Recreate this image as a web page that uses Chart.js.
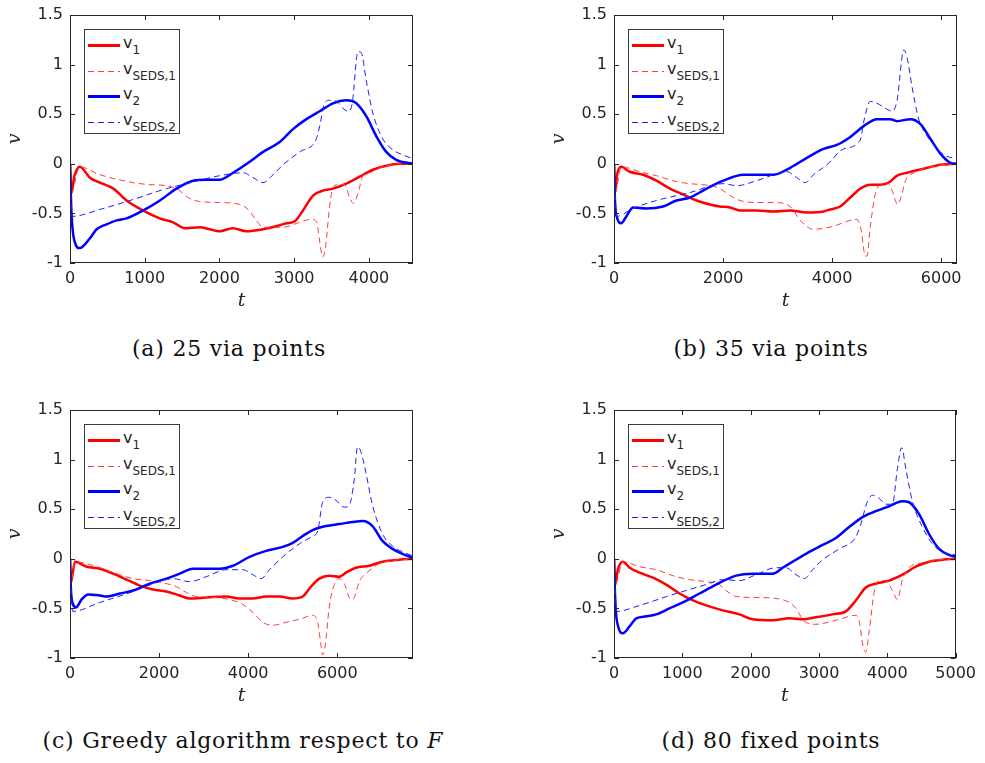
<!DOCTYPE html>
<html lang="en">
<head>
  <meta charset="UTF-8" />
  <title>v vs t</title>
  <style>
    body { margin: 0; background: #fff; }
    #wrap { position: relative; width: 985px; height: 763px; overflow: hidden; }
    .panel { position: absolute; width: 440px; height: 320px; }
    .panel canvas { position: absolute; left: 0; top: 0; }
    .legend { position: absolute; background: #fff; border: 1px solid #3a3a3a; width: 94px; height: 103px;
              font-family: "DejaVu Sans", sans-serif; font-size: 16px; color: #262626; }
    .row { position: absolute; left: 3px; height: 24px; line-height: 24px; white-space: nowrap; }
    .sw { position: absolute; left: 0; width: 32px; }
    .lab { position: absolute; left: 35px; top: -2px; }
    .lab .sub { font-size: 12px; position: relative; top: 6px; }
    .cap { position: absolute; width: 500px; text-align: center; font-family: "DejaVu Serif", serif;
           font-size: 22px; letter-spacing: 0.8px; line-height: 26px; color: #111; white-space: nowrap; }
  </style>
</head>
<body>
<div id="wrap">
  <div class="panel" id="pa" style="left:0;top:0"><canvas id="ca" width="440" height="320"></canvas></div>
  <div class="panel" id="pb" style="left:544px;top:0"><canvas id="cb" width="440" height="320"></canvas></div>
  <div class="panel" id="pc" style="left:0;top:395px"><canvas id="cc" width="440" height="320"></canvas></div>
  <div class="panel" id="pd" style="left:544px;top:395px"><canvas id="cd" width="440" height="320"></canvas></div>
  <div class="cap" style="left:-21px;top:336px">(a) 25 via points</div>
  <div class="cap" style="left:521px;top:336px">(b) 35 via points</div>
  <div class="cap" style="left:-7px;top:728px">(c) Greedy algorithm respect to <i>F</i></div>
  <div class="cap" style="left:521px;top:728px">(d) 80 fixed points</div>
</div>

<script src="https://cdn.jsdelivr.net/npm/chart.js"></script>
<script>
// shared axis ticks
const yTicks = [-1, -0.5, 0, 0.5, 1, 1.5];
const xTicksA = [0, 1000, 2000, 3000, 4000];
const xTicksB = [0, 2000, 4000, 6000];
const xTicksC = [0, 2000, 4000, 6000];
const xTicksD = [0, 1000, 2000, 3000, 4000, 5000];
const xMaxA = 4590, xMaxB = 6290, xMaxC = 7700, xMaxD = 5000;

// legend names
const names = ['v', 'v', 'v', 'v'];
const subs = ['1', 'SEDS,1', '2', 'SEDS,2'];

// (a) 25 via points
const tA_v1 = [0, 15, 60, 130, 267, 400, 580, 757, 1000, 1200, 1380, 1537, 1737, 1870, 2000, 2180, 2360, 2583, 2760, 2895, 3007, 3118, 3252, 3385, 3519, 3697, 3875, 4053, 4232, 4410, 4590];
const vA_v1 = [0, -0.3, -0.12, -0.03, -0.14, -0.19, -0.25, -0.37, -0.48, -0.55, -0.59, -0.65, -0.64, -0.66, -0.68, -0.65, -0.68, -0.66, -0.63, -0.60, -0.58, -0.47, -0.32, -0.27, -0.25, -0.20, -0.13, -0.06, -0.02, 0, 0];
const tA_s1 = [0, 15, 130, 400, 846, 1069, 1292, 1425, 1604, 1737, 2000, 2272, 2383, 2494, 2583, 2851, 3073, 3229, 3296, 3363, 3385, 3421, 3474, 3519, 3586, 3675, 3742, 3795, 3853, 3920, 4009, 4187, 4410, 4590];
const vA_s1 = [0, -0.3, -0.03, -0.11, -0.19, -0.21, -0.22, -0.25, -0.35, -0.38, -0.39, -0.41, -0.46, -0.57, -0.64, -0.64, -0.59, -0.56, -0.58, -0.89, -0.94, -0.83, -0.43, -0.24, -0.21, -0.21, -0.34, -0.40, -0.30, -0.12, -0.09, -0.03, 0, 0];
const tA_v2 = [0, 20, 60, 130, 267, 356, 490, 624, 757, 980, 1203, 1425, 1648, 1826, 2000, 2183, 2405, 2583, 2806, 2984, 3163, 3341, 3519, 3697, 3831, 3964, 4098, 4232, 4365, 4590];
const vA_v2 = [0, -0.5, -0.78, -0.85, -0.75, -0.66, -0.61, -0.57, -0.55, -0.47, -0.37, -0.25, -0.17, -0.16, -0.16, -0.09, 0.02, 0.12, 0.22, 0.35, 0.45, 0.53, 0.61, 0.64, 0.61, 0.48, 0.28, 0.12, 0.04, 0];
const tA_s2 = [0, 30, 400, 846, 1292, 1559, 2000, 2316, 2450, 2583, 2717, 2851, 3073, 3296, 3341, 3408, 3474, 3563, 3653, 3719, 3777, 3853, 3898, 3964, 4053, 4187, 4321, 4454, 4590];
const vA_s2 = [0, -0.53, -0.46, -0.36, -0.25, -0.20, -0.12, -0.09, -0.14, -0.19, -0.11, -0.01, 0.12, 0.25, 0.38, 0.61, 0.64, 0.63, 0.56, 0.53, 0.61, 1.13, 1.12, 0.84, 0.51, 0.25, 0.14, 0.09, 0.05];

// (b) 35 via points
const tB_v1 = [0, 15, 60, 135, 288, 533, 778, 1024, 1269, 1514, 1759, 1943, 2127, 2311, 2617, 2924, 3230, 3537, 3843, 3966, 4149, 4333, 4517, 4701, 4885, 5038, 5191, 5375, 5682, 5988, 6290];
const vB_v1 = [0, -0.3, -0.1, -0.03, -0.08, -0.11, -0.17, -0.25, -0.31, -0.37, -0.41, -0.43, -0.44, -0.47, -0.47, -0.48, -0.47, -0.49, -0.48, -0.46, -0.43, -0.34, -0.25, -0.21, -0.21, -0.19, -0.12, -0.09, -0.05, -0.01, 0];
const tB_s1 = [0, 15, 135, 472, 778, 1146, 1391, 1759, 1943, 2127, 2311, 2617, 2924, 3230, 3414, 3659, 4026, 4272, 4456, 4529, 4609, 4640, 4701, 4793, 4885, 5007, 5099, 5203, 5283, 5344, 5497, 5682, 6000, 6290];
const vB_s1 = [0, -0.3, -0.03, -0.08, -0.12, -0.18, -0.20, -0.22, -0.25, -0.32, -0.37, -0.39, -0.39, -0.43, -0.57, -0.66, -0.63, -0.58, -0.56, -0.66, -0.93, -0.93, -0.63, -0.30, -0.21, -0.19, -0.27, -0.41, -0.30, -0.17, -0.09, -0.05, -0.01, 0];
const tB_v2 = [0, 20, 60, 130, 227, 349, 594, 901, 1146, 1391, 1698, 2004, 2372, 2617, 2924, 3230, 3537, 3843, 4088, 4333, 4578, 4823, 5069, 5191, 5436, 5620, 5804, 5988, 6172, 6290];
const vB_v2 = [0, -0.4, -0.55, -0.60, -0.53, -0.44, -0.45, -0.43, -0.37, -0.34, -0.25, -0.17, -0.11, -0.11, -0.11, -0.04, 0.06, 0.15, 0.19, 0.27, 0.38, 0.45, 0.45, 0.43, 0.45, 0.40, 0.25, 0.10, 0.01, 0];
const tB_s2 = [0, 50, 349, 778, 1391, 2004, 2249, 2617, 2985, 3169, 3353, 3506, 3659, 3904, 4211, 4517, 4578, 4701, 4823, 4977, 5099, 5191, 5314, 5375, 5467, 5589, 5743, 5865, 6049, 6290];
const vB_s2 = [0, -0.53, -0.45, -0.37, -0.29, -0.20, -0.22, -0.17, -0.10, -0.08, -0.14, -0.19, -0.11, -0.01, 0.15, 0.24, 0.42, 0.63, 0.61, 0.56, 0.53, 0.64, 1.15, 1.07, 0.77, 0.45, 0.28, 0.19, 0.09, 0.05];

// (c) greedy algorithm
const tC_v1 = [0, 15, 112, 373, 672, 970, 1269, 1567, 1866, 2164, 2463, 2687, 3060, 3507, 3806, 4104, 4403, 4701, 5000, 5224, 5410, 5597, 5821, 6045, 6231, 6418, 6716, 7015, 7388, 7700];
const vC_v1 = [0, -0.25, -0.03, -0.08, -0.10, -0.15, -0.21, -0.27, -0.31, -0.33, -0.37, -0.40, -0.39, -0.38, -0.40, -0.40, -0.38, -0.38, -0.40, -0.38, -0.28, -0.20, -0.17, -0.18, -0.13, -0.09, -0.07, -0.03, -0.01, 0];
const tC_s1 = [0, 15, 112, 672, 1045, 1418, 1791, 2164, 2388, 2612, 2836, 3284, 3657, 3881, 4104, 4328, 4552, 4851, 5149, 5448, 5560, 5634, 5672, 5731, 5821, 5933, 6045, 6157, 6306, 6381, 6493, 6642, 6940, 7388, 7700];
const vC_s1 = [0, -0.25, -0.03, -0.09, -0.15, -0.20, -0.22, -0.25, -0.28, -0.34, -0.38, -0.39, -0.42, -0.46, -0.54, -0.64, -0.67, -0.64, -0.61, -0.57, -0.64, -0.87, -0.97, -0.87, -0.48, -0.26, -0.20, -0.25, -0.41, -0.39, -0.23, -0.15, -0.05, -0.01, 0];
const tC_v2 = [0, 20, 60, 134, 261, 410, 672, 821, 1119, 1418, 1791, 2164, 2463, 2761, 3060, 3358, 3657, 4030, 4403, 4776, 5000, 5224, 5448, 5746, 6045, 6343, 6567, 6791, 7015, 7239, 7463, 7700];
const vC_v2 = [0, -0.3, -0.45, -0.49, -0.41, -0.36, -0.37, -0.38, -0.35, -0.32, -0.25, -0.20, -0.15, -0.10, -0.10, -0.10, -0.07, 0.02, 0.08, 0.12, 0.16, 0.23, 0.29, 0.33, 0.35, 0.37, 0.38, 0.33, 0.18, 0.10, 0.05, 0.01];
const tC_s2 = [0, 60, 672, 1418, 1940, 2313, 2687, 3060, 3507, 3881, 4104, 4291, 4478, 4776, 5149, 5448, 5560, 5672, 5821, 5970, 6157, 6269, 6381, 6455, 6530, 6642, 6791, 7015, 7239, 7463, 7700];
const vC_s2 = [0, -0.53, -0.44, -0.33, -0.24, -0.20, -0.23, -0.18, -0.11, -0.11, -0.16, -0.20, -0.11, 0.02, 0.15, 0.23, 0.28, 0.57, 0.62, 0.59, 0.52, 0.54, 0.80, 1.13, 1.08, 0.87, 0.54, 0.25, 0.13, 0.07, 0.03];

// (d) 80 fixed points
const tD_v1 = [0, 12, 60, 131, 229, 375, 570, 764, 959, 1154, 1349, 1592, 1835, 2030, 2322, 2566, 2760, 2955, 3199, 3393, 3539, 3685, 3831, 4026, 4221, 4416, 4611, 4805, 5000];
const vD_v1 = [0, -0.27, -0.1, -0.03, -0.09, -0.14, -0.19, -0.26, -0.35, -0.42, -0.47, -0.52, -0.56, -0.61, -0.62, -0.60, -0.61, -0.59, -0.56, -0.53, -0.42, -0.29, -0.25, -0.22, -0.16, -0.08, -0.03, -0.01, 0];
const tD_s1 = [0, 12, 131, 375, 618, 862, 1105, 1349, 1543, 1641, 1787, 2079, 2371, 2566, 2663, 2785, 2955, 3247, 3539, 3588, 3647, 3685, 3734, 3807, 3880, 3978, 4075, 4148, 4221, 4319, 4513, 4757, 5000];
const vD_s1 = [0, -0.27, -0.03, -0.08, -0.11, -0.17, -0.21, -0.23, -0.26, -0.32, -0.38, -0.39, -0.40, -0.44, -0.50, -0.63, -0.66, -0.62, -0.57, -0.63, -0.89, -0.94, -0.73, -0.34, -0.22, -0.22, -0.32, -0.41, -0.21, -0.09, -0.04, -0.01, 0];
const tD_v2 = [0, 20, 60, 131, 229, 326, 472, 618, 813, 1008, 1251, 1495, 1787, 2030, 2322, 2468, 2663, 2858, 3053, 3247, 3442, 3637, 3831, 4026, 4221, 4319, 4465, 4611, 4757, 4903, 5000];
const vD_v2 = [0, -0.45, -0.68, -0.75, -0.68, -0.60, -0.58, -0.56, -0.50, -0.44, -0.35, -0.26, -0.17, -0.15, -0.15, -0.09, -0.01, 0.07, 0.14, 0.21, 0.32, 0.42, 0.48, 0.53, 0.58, 0.57, 0.45, 0.25, 0.10, 0.04, 0.02];
const tD_s2 = [0, 40, 375, 862, 1349, 1592, 1835, 2079, 2371, 2517, 2663, 2785, 2907, 3053, 3296, 3539, 3612, 3710, 3783, 3880, 3978, 4075, 4148, 4211, 4270, 4367, 4513, 4660, 4805, 5000];
const vD_s2 = [0, -0.53, -0.47, -0.36, -0.26, -0.21, -0.22, -0.16, -0.09, -0.09, -0.16, -0.20, -0.11, -0.01, 0.10, 0.22, 0.35, 0.58, 0.64, 0.61, 0.55, 0.55, 0.91, 1.12, 0.91, 0.58, 0.32, 0.15, 0.07, 0.04];

const axisColor = '#262626';
const lineStyles = [
  { color: '#ff0000', width: 2.5, dash: [] },
  { color: 'rgb(255,60,60)', width: 1, dash: [6, 4] },
  { color: '#0000ff', width: 2.5, dash: [] },
  { color: 'rgb(30,30,255)', width: 1, dash: [6, 4] }
];

function pts(t, v) {
  return t.map((x, i) => ({ x: x, y: v[i] }));
}

// matlab-like box with inward ticks on all sides
const boxPlugin = {
  id: 'box',
  afterDraw(chart) {
    const { ctx, chartArea: a, scales: { x, y } } = chart;
    ctx.save();
    ctx.strokeStyle = axisColor;
    ctx.lineWidth = 1;
    ctx.strokeRect(Math.round(a.left) + 0.5, Math.round(a.top) + 0.5, Math.round(a.width) - 1, Math.round(a.height) - 1);
    ctx.beginPath();
    x.ticks.forEach(tk => {
      const px = Math.round(x.getPixelForValue(tk.value)) + 0.5;
      ctx.moveTo(px, a.bottom); ctx.lineTo(px, a.bottom - 5);
      ctx.moveTo(px, a.top); ctx.lineTo(px, a.top + 5);
    });
    y.ticks.forEach(tk => {
      const py = Math.round(y.getPixelForValue(tk.value)) + 0.5;
      ctx.moveTo(a.left, py); ctx.lineTo(a.left + 5, py);
      ctx.moveTo(a.right, py); ctx.lineTo(a.right - 5, py);
    });
    ctx.stroke();
    ctx.restore();
  }
};

function makeChart(canvasId, panelId, xMax, xTicks, series) {
  const datasets = series.map((s, i) => ({
    label: names[i] + subs[i],
    data: pts(s[0], s[1]),
    borderColor: lineStyles[i].color,
    borderWidth: lineStyles[i].width,
    borderDash: lineStyles[i].dash,
    pointRadius: 0,
    fill: false,
    cubicInterpolationMode: 'monotone',
    order: 4 - i
  }));
  const tickFont = { family: 'DejaVu Sans', size: 16, lineHeight: 1 };
  const chart = new Chart(document.getElementById(canvasId), {
    type: 'line',
    data: { datasets },
    options: {
      responsive: false,
      animation: false,
      layout: { padding: { top: 8, right: 27, left: 0, bottom: 0 } },
      plugins: { legend: { display: false }, tooltip: { enabled: false } },
      scales: {
        x: {
          type: 'linear', min: 0, max: xMax,
          afterBuildTicks: s => { s.ticks = xTicks.map(v => ({ value: v })); },
          afterFit: s => { s.height = 57; },
          ticks: { callback: v => String(v), color: axisColor, font: tickFont, padding: 8, maxRotation: 0, autoSkip: false },
          grid: { display: false, drawTicks: false },
          border: { display: false },
          title: { display: true, text: 't', color: axisColor, padding: { top: 0, bottom: 8 },
                   font: { family: 'DejaVu Serif', style: 'italic', size: 19 } }
        },
        y: {
          min: -1, max: 1.5,
          afterBuildTicks: s => { s.ticks = yTicks.map(v => ({ value: v })); },
          afterFit: s => { s.width = 70; },
          ticks: { callback: v => String(v), color: axisColor, font: tickFont, padding: 7 },
          grid: { display: false, drawTicks: false },
          border: { display: false },
          title: { display: true, text: 'v', color: axisColor, padding: { top: 4, bottom: 0 },
                   font: { family: 'DejaVu Serif', style: 'italic', size: 19 } }
        }
      }
    },
    plugins: [boxPlugin]
  });

  // legend with subscripts, placed inside the plot area
  const a = chart.chartArea;
  const box = document.createElement('div');
  box.className = 'legend';
  box.style.left = (a.left + 14) + 'px';
  box.style.top = (a.top + 14) + 'px';
  series.forEach((s, i) => {
    const st = lineStyles[i];
    const row = document.createElement('div');
    row.className = 'row';
    row.style.top = (3 + i * 25.5) + 'px';
    const sw = document.createElement('span');
    sw.className = 'sw';
    if (st.dash.length) {
      sw.style.top = '12px';
      sw.style.height = '1px';
      sw.style.background = 'repeating-linear-gradient(90deg,' + st.color + ' 0px,' + st.color + ' 6px, #ffffff 6px, #ffffff 10px)';
    } else {
      sw.style.top = '11px';
      sw.style.height = '3px';
      sw.style.background = st.color;
    }
    const lab = document.createElement('span');
    lab.className = 'lab';
    lab.innerHTML = names[i] + '<span class="sub">' + subs[i] + '</span>';
    row.appendChild(sw);
    row.appendChild(lab);
    box.appendChild(row);
  });
  document.getElementById(panelId).appendChild(box);
  return chart;
}

makeChart('ca', 'pa', xMaxA, xTicksA, [[tA_v1, vA_v1], [tA_s1, vA_s1], [tA_v2, vA_v2], [tA_s2, vA_s2]]);
makeChart('cb', 'pb', xMaxB, xTicksB, [[tB_v1, vB_v1], [tB_s1, vB_s1], [tB_v2, vB_v2], [tB_s2, vB_s2]]);
makeChart('cc', 'pc', xMaxC, xTicksC, [[tC_v1, vC_v1], [tC_s1, vC_s1], [tC_v2, vC_v2], [tC_s2, vC_s2]]);
makeChart('cd', 'pd', xMaxD, xTicksD, [[tD_v1, vD_v1], [tD_s1, vD_s1], [tD_v2, vD_v2], [tD_s2, vD_s2]]);
</script>
</body>
</html>
